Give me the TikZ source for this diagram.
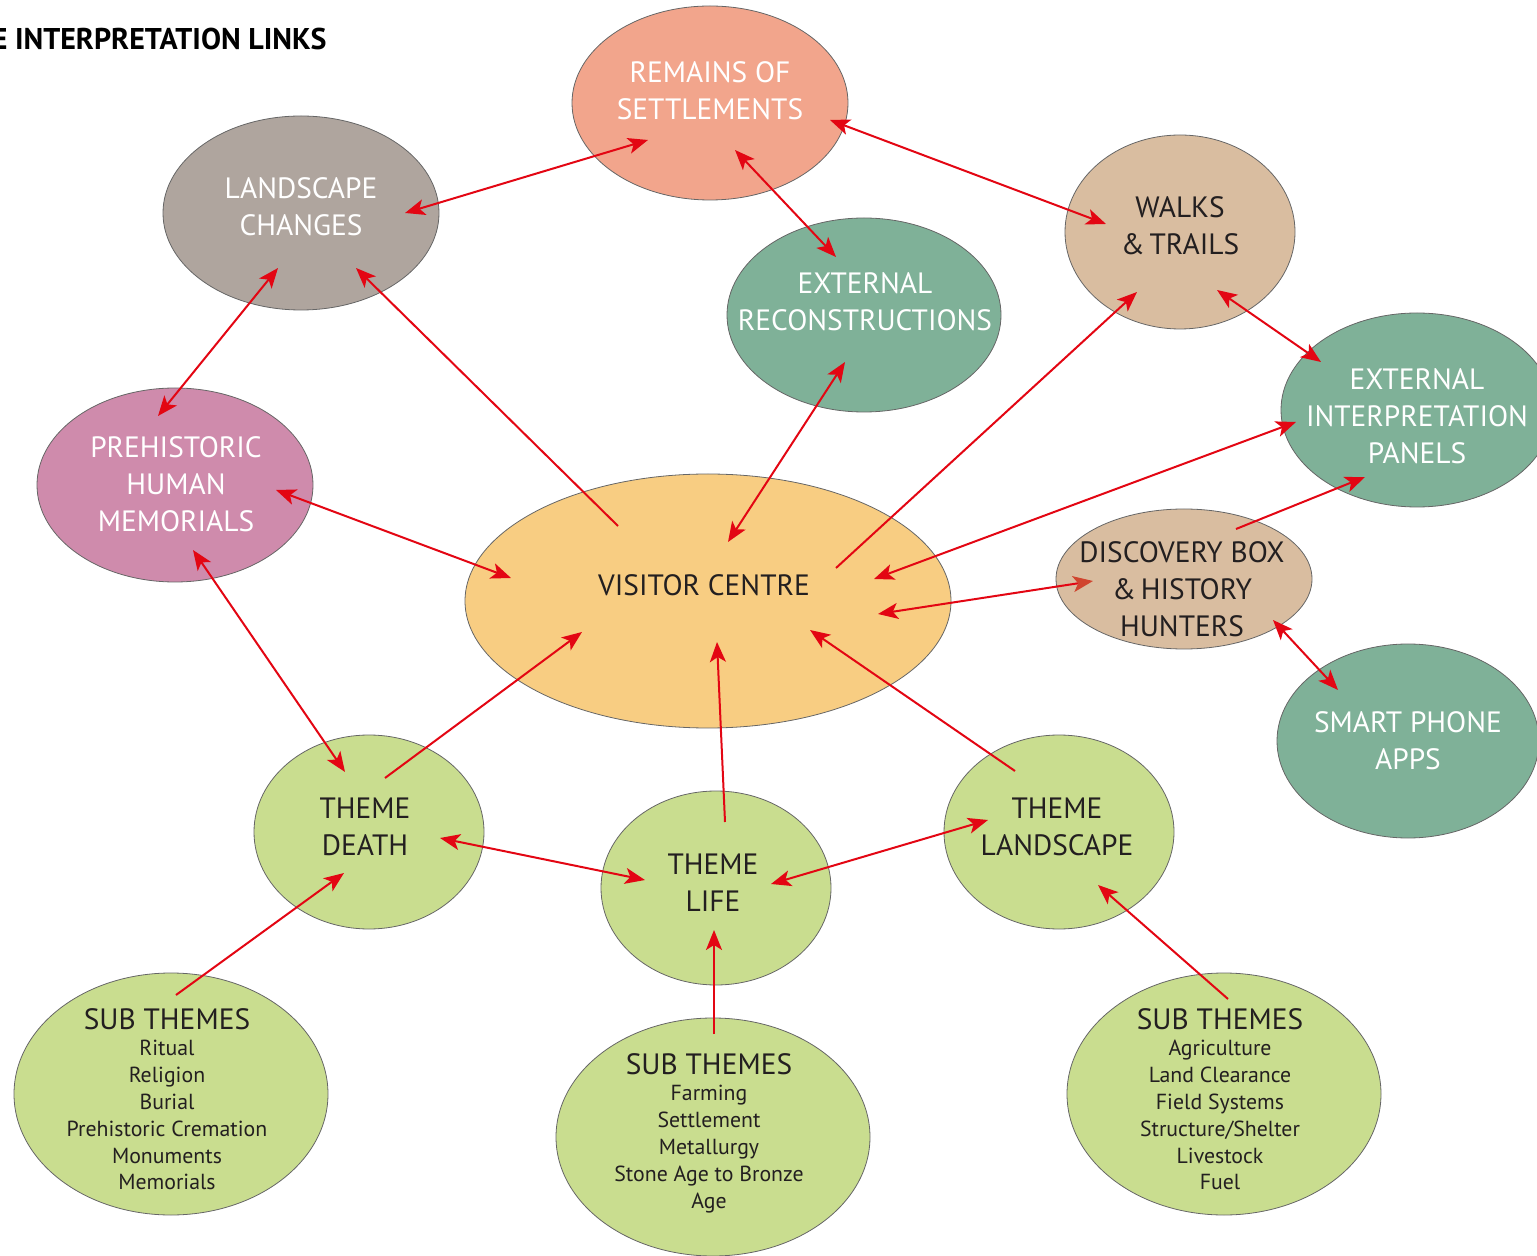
\documentclass[tikz,border=0pt]{standalone}
\usepackage{fontspec}
\setmainfont{PT Sans}
\usetikzlibrary{shapes.geometric,arrows.meta}
\definecolor{salmon}{HTML}{F2A58C}
\definecolor{stone}{HTML}{AFA59E}
\definecolor{tan}{HTML}{D9BDA0}
\definecolor{teal}{HTML}{7FB198}
\definecolor{pinkish}{HTML}{CF8BAC}
\definecolor{orangey}{HTML}{F8CD82}
\definecolor{lgreen}{HTML}{C9DD8F}
\definecolor{arrred}{HTML}{E30613}
\definecolor{headred}{HTML}{D0452F}
\definecolor{ink}{HTML}{231F20}
\tikzset{
  blob/.style={ellipse, draw=gray!80!black, line width=0.4pt, inner sep=0pt},
  big/.style={align=center, font=\fontsize{14.7}{18.5}\selectfont, inner sep=0pt},
  wt/.style={big, text=white},
  bk/.style={big, text=ink},
  items/.style={align=center, font=\fontsize{10.9}{13.4}\selectfont, inner sep=0pt, text=ink},
  >={Stealth[length=10pt,width=8pt,inset=2.5pt]},
  link/.style={draw=arrred, line width=1pt},
}
\begin{document}
\begin{tikzpicture}[x=0.5pt,y=-0.5pt]
\useasboundingbox (0,0) rectangle (1537,1256);
% title
\node[anchor=base east, inner sep=0pt, font=\fontsize{15}{17}\selectfont\bfseries, text=black] (title) at (327,50) {E INTERPRETATION LINKS};
% ellipses
\node[blob, fill=salmon, minimum width=138pt, minimum height=97pt] (rem) at (710,103) {};
\node[blob, fill=stone, minimum width=138pt, minimum height=97pt] (lch) at (301,213) {};
\node[blob, fill=tan, minimum width=115pt, minimum height=97pt] (wal) at (1180,232) {};
\node[blob, fill=teal, minimum width=137pt, minimum height=97pt] (rec) at (864,315) {};
\node[blob, fill=teal, minimum width=136pt, minimum height=97pt] (pan) at (1417,410) {};
\node[blob, fill=pinkish, minimum width=138pt, minimum height=97pt] (pre) at (175,485) {};
\node[blob, fill=orangey, minimum width=243pt, minimum height=127pt] (vis) at (708,601) {};
\node[blob, fill=tan, minimum width=128pt, minimum height=70pt] (dis) at (1184,579) {};
\node[blob, fill=teal, minimum width=131pt, minimum height=97pt] (app) at (1408,741) {};
\node[blob, fill=lgreen, minimum width=115pt, minimum height=97pt] (tde) at (369,832) {};
\node[blob, fill=lgreen, minimum width=115pt, minimum height=97pt] (tli) at (716,888) {};
\node[blob, fill=lgreen, minimum width=115pt, minimum height=97pt] (tla) at (1059,832) {};
\node[blob, fill=lgreen, minimum width=157pt, minimum height=121pt] (sl) at (171,1094) {};
\node[blob, fill=lgreen, minimum width=157pt, minimum height=119pt] (sm) at (713,1137) {};
\node[blob, fill=lgreen, minimum width=157pt, minimum height=121pt] (sr) at (1224,1094) {};
% labels
\node[wt] (remt) at (710,91) {REMAINS OF\\SETTLEMENTS};
\node[wt] (lcht) at (301,207) {LANDSCAPE\\CHANGES};
\node[bk] (walt) at (1180,226) {WALKS\\\&\,TRAILS};
\node[wt] (rect) at (865,302) {EXTERNAL\\RECONSTRUCTIONS};
\node[wt] (pant) at (1417,416) {EXTERNAL\\INTERPRETATION\\PANELS};
\node[wt] (pret) at (176,484) {PREHISTORIC\\HUMAN\\MEMORIALS};
\node[bk] (vist) at (704,585) {VISITOR CENTRE};
\node[bk] (dist) at (1182,589) {DISCOVERY BOX\\\&\,HISTORY\\HUNTERS};
\node[wt] (appt) at (1408,741) {SMART PHONE\\APPS};
\node[bk] (tdet) at (365,827) {THEME\\DEATH};
\node[bk] (tlit) at (713,883) {THEME\\LIFE};
\node[bk] (tlat) at (1057,827) {THEME\\LANDSCAPE};
% sub themes
\node[bk] (slh) at (167,1019) {SUB THEMES};
\node[items, anchor=north] (sli) at (167,1040) {Ritual\\Religion\\Burial\\Prehistoric Cremation\\Monuments\\Memorials};
\node[bk] (smh) at (709,1064) {SUB THEMES};
\node[items, anchor=north] (smi) at (709,1085) {Farming\\Settlement\\Metallurgy\\Stone Age to Bronze\\Age};
\node[bk] (srh) at (1220,1019) {SUB THEMES};
\node[items, anchor=north] (sri) at (1220,1040) {Agriculture\\Land Clearance\\Field Systems\\Structure/Shelter\\Livestock\\Fuel};
% connectors
\draw[link,<->] ([shift={(104,0)}]lch.center) -- ([shift={(-62,37)}]rem.center);
\draw[link,<->] ([shift={(25,47)}]rem.center) -- ([shift={(-28,-58)}]rec.center);
\draw[link,<->] ([shift={(120,17)}]rem.center) -- ([shift={(-74,-8)}]wal.center);
\draw[link,<->] ([shift={(37,58)}]wal.center) -- ([shift={(-96,-48)}]pan.center);
\draw[link,<->] ([shift={(-23,55)}]lch.center) -- ([shift={(-17,-69)}]pre.center);
\draw[link,->] ([shift={(-90,-75)}]vis.center) -- ([shift={(55,55)}]lch.center);
\draw[link,<->] ([shift={(-19,47)}]rec.center) -- ([shift={(20,-59)}]vis.center);
\draw[link,->] ([shift={(128,-33)}]vis.center) -- ([shift={(-43,60)}]wal.center);
\draw[link,<->] ([shift={(-121,12)}]pan.center) -- ([shift={(166,-22)}]vis.center);
\draw[link,->] ([shift={(52,-50)}]dis.center) -- ([shift={(-52,67)}]pan.center);
\draw[link,arrows={Stealth[length=10pt,width=8pt,inset=2.5pt,color=headred]-Stealth[length=10pt,width=8pt,inset=2.5pt]}] ([shift={(-91,2)}]dis.center) -- ([shift={(170,13)}]vis.center);
\draw[link,<->] ([shift={(101,5)}]pre.center) -- ([shift={(-197,-23)}]vis.center);
\draw[link,<->] ([shift={(18,65)}]pre.center) -- ([shift={(-24,-60)}]tde.center);
\draw[link,->] ([shift={(16,-54)}]tde.center) -- ([shift={(-126,31)}]vis.center);
\draw[link,->] ([shift={(9,-66)}]tli.center) -- ([shift={(9,41)}]vis.center);
\draw[link,->] ([shift={(-44,-61)}]tla.center) -- ([shift={(102,29)}]vis.center);
\draw[link,<->] ([shift={(71,6)}]tde.center) -- ([shift={(-71,-8)}]tli.center);
\draw[link,<->] ([shift={(55,-4)}]tli.center) -- ([shift={(-71,-12)}]tla.center);
\draw[link,->] ([shift={(5,-99)}]sl.center) -- ([shift={(-25,41)}]tde.center);
\draw[link,->] ([shift={(1,-103)}]sm.center) -- ([shift={(-2,42)}]tli.center);
\draw[link,->] ([shift={(4,-95)}]sr.center) -- ([shift={(39,53)}]tla.center);
\draw[link,<->] ([shift={(89,41)}]dis.center) -- ([shift={(-70,-51)}]app.center);
\end{tikzpicture}
\end{document}
